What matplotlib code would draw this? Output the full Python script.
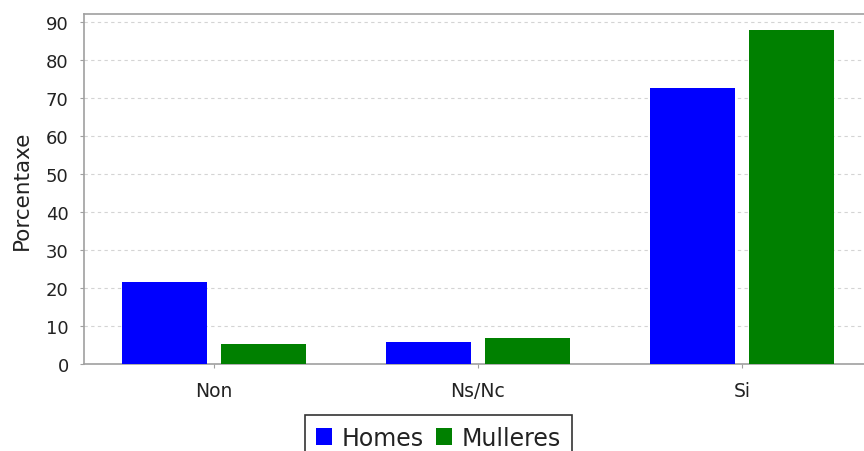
import matplotlib
matplotlib.use("Agg")
import matplotlib.pyplot as plt
import numpy as np

plt.rcParams["font.family"] = ["DejaVu Sans"]

categories = ["Non", "Ns/Nc", "Si"]
series_names = ["Homes", "Mulleres"]
homes = [21.7, 5.9, 72.7]
mulleres = [5.3, 6.9, 88.0]
yticks = [0, 10, 20, 30, 40, 50, 60, 70, 80, 90]

W, H = 864, 452
fig = plt.figure(figsize=(W / 100, H / 100), dpi=100)
ax = fig.add_axes([84 / W, (H - 365) / H, (872 - 84) / W, 350 / H])

x = np.arange(len(categories))
bw = 0.322
off = 0.187
ax.bar(x - off, homes, width=bw, color="#0000FF", label=series_names[0], zorder=3)
ax.bar(x + off, mulleres, width=bw, color="#008000", label=series_names[1], zorder=3)

ax.set_xlim(-0.492, 2.492)
ax.set_ylim(0, 92.1)
ax.set_yticks(yticks)
ax.set_xticks(x)
ax.set_xticklabels(categories)

ax.yaxis.grid(True, color="#d4d4d4", linestyle=(0, (3, 3)), linewidth=0.8, zorder=0)
ax.xaxis.grid(False)
for s in ax.spines.values():
    s.set_color("#a0a0a0")
    s.set_linewidth(1.2)

ax.tick_params(axis="y", length=3, width=0.8, color="#a0a0a0", labelsize=13,
               labelcolor="#222222", pad=8)
ax.tick_params(axis="x", length=3, width=0.8, color="#a0a0a0", labelsize=13.5,
               labelcolor="#222222", pad=9)
ax.set_ylabel("Porcentaxe", fontsize=15.5, color="#222222", labelpad=10)

leg = fig.legend(loc="upper center", bbox_to_anchor=(438.5 / W, 1 - 416 / H),
                 ncol=2, fontsize=17, frameon=True, fancybox=False,
                 handlelength=0.7, handleheight=0.7, handletextpad=0.4,
                 columnspacing=0.5, borderpad=0.45, borderaxespad=0)
leg.get_frame().set_edgecolor("black")
leg.get_frame().set_linewidth(1.2)
for t in leg.get_texts():
    t.set_color("#222222")

fig.savefig("out.png", dpi=100)
